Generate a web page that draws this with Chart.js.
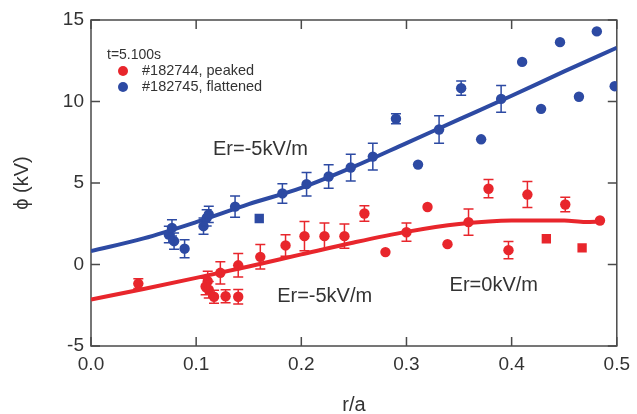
<!DOCTYPE html>
<html><head><meta charset="utf-8">
<script src="https://cdn.jsdelivr.net/npm/chart.js@4.4.1/dist/chart.umd.min.js"></script>
<style>html,body{margin:0;padding:0;background:#fff}#wrap{width:637px;height:414px}</style>
</head><body><div id="wrap"><canvas id="c" width="637" height="414"></canvas></div>
<script>
// ---- data ----
const xTickValues = [0, 0.1, 0.2, 0.3, 0.4, 0.5];
const yTickValues = [-5, 0, 5, 10, 15];
const xTitle = 'r/a';
const yTitle = 'ϕ (kV)';
const legendTitle = 't=5.100s';
const seriesNames = ['#182744, peaked', '#182745, flattened'];
const annotationTexts = ['Er=-5kV/m', 'Er=-5kV/m', 'Er=0kV/m'];

// #182744 peaked (red)
const peakedR   = [0.045, 0.111, 0.109, 0.112, 0.117, 0.128, 0.140, 0.123, 0.140, 0.161, 0.185, 0.203, 0.222, 0.241, 0.260, 0.280, 0.300, 0.320, 0.339, 0.359, 0.378, 0.397, 0.415, 0.433, 0.451, 0.467, 0.484];
const peakedPhi = [-1.17, -1.02, -1.35, -1.55, -1.98, -1.95, -1.98, -0.51, -0.05, 0.47, 1.17, 1.74, 1.74, 1.74, 3.13, 0.76, 1.98, 3.53, 1.25, 2.60, 4.65, 0.88, 4.29, 1.58, 3.68, 1.02, 2.70];
const peakedErr = [0.30, 0.60, 0.50, 0.50, 0.40, 0.40, 0.45, 0.68, 0.72, 0.75, 0.66, 0.90, 0.80, 0.75, 0.48, 0, 0.56, 0, 0, 0.80, 0.56, 0.53, 0.80, 0, 0.44, 0, 0];

// #182745 flattened (blue)
const flatR   = [0.074, 0.077, 0.079, 0.089, 0.107, 0.110, 0.112, 0.137, 0.160, 0.182, 0.205, 0.226, 0.247, 0.268, 0.290, 0.311, 0.331, 0.352, 0.371, 0.390, 0.410, 0.428, 0.446, 0.464, 0.481, 0.498];
const flatPhi = [1.84, 2.25, 1.43, 0.97, 2.35, 2.86, 3.07, 3.55, 2.82, 4.36, 4.93, 5.40, 5.95, 6.62, 8.94, 6.13, 8.28, 10.82, 7.68, 10.16, 12.43, 9.55, 13.64, 10.29, 14.30, 10.94];
const flatErr = [0.50, 0.50, 0.50, 0.55, 0.50, 0.50, 0.50, 0.65, 0, 0.60, 0.72, 0.72, 0.82, 0.82, 0.31, 0, 0.84, 0.44, 0, 0.82, 0, 0, 0, 0, 0, 0];

// fitted curves
const peakedFitR   = [0, 0.05, 0.10, 0.15, 0.20, 0.25, 0.30, 0.35, 0.40, 0.45, 0.47, 0.485];
const peakedFitPhi = [-2.15, -1.50, -0.82, -0.12, 0.62, 1.35, 2.00, 2.48, 2.70, 2.70, 2.60, 2.64];
const flatFitR   = [0, 0.05, 0.10, 0.15, 0.20, 0.25, 0.30, 0.35, 0.40, 0.45, 0.50];
const flatFitPhi = [0.82, 1.60, 2.60, 3.70, 4.70, 6.00, 7.45, 8.90, 10.35, 11.85, 13.30];

// ---- styling (kept apart from the data) ----
const RED = '#e8262c', BLUE = '#2d4aa3', INK = '#333333', AXIS = '#4a4a4a';
const peakedSquares = [23, 25];
const flatSquares = [8];
const FONT = '"Liberation Sans", Arial, sans-serif';

const pts = (xs, ys) => xs.map((v, i) => ({x: v, y: ys[i]}));
const styles = (n, sq) => Array.from({length: n}, (_, i) => sq.includes(i) ? 'rect' : 'circle');
const radii = (n, sq) => Array.from({length: n}, (_, i) => sq.includes(i) ? 6.6 : 5.2);

const boxTicks = {
  id: 'boxTicks',
  beforeDatasetsDraw(chart) {
    const {ctx, chartArea: a, scales: {x, y}} = chart;
    ctx.save();
    ctx.strokeStyle = AXIS; ctx.lineWidth = 1.5;
    ctx.strokeRect(a.left, a.top, a.right - a.left, a.bottom - a.top);
    const L = 9;
    ctx.beginPath();
    x.ticks.forEach(t => {
      const p = x.getPixelForValue(t.value);
      ctx.moveTo(p, a.bottom); ctx.lineTo(p, a.bottom - L);
      ctx.moveTo(p, a.top); ctx.lineTo(p, a.top + L);
    });
    y.ticks.forEach(t => {
      const p = y.getPixelForValue(t.value);
      ctx.moveTo(a.left, p); ctx.lineTo(a.left + L, p);
      ctx.moveTo(a.right, p); ctx.lineTo(a.right - L, p);
    });
    ctx.stroke();
    ctx.restore();
  }
};

const errorBars = {
  id: 'errorBars',
  afterDatasetsDraw(chart) {
    const {ctx, scales: {x, y}} = chart;
    ctx.save();
    chart.data.datasets.forEach(ds => {
      if (!ds.errors) return;
      ctx.strokeStyle = ds.borderColor; ctx.lineWidth = 1.5;
      ds.data.forEach((p, j) => {
        const e = ds.errors[j];
        if (!e) return;
        const px = x.getPixelForValue(p.x);
        const y1 = y.getPixelForValue(p.y + e), y2 = y.getPixelForValue(p.y - e);
        ctx.beginPath();
        ctx.moveTo(px, y1); ctx.lineTo(px, y2);
        ctx.moveTo(px - 5, y1); ctx.lineTo(px + 5, y1);
        ctx.moveTo(px - 5, y2); ctx.lineTo(px + 5, y2);
        ctx.stroke();
      });
    });
    ctx.restore();
  }
};

const legendAndNotes = {
  id: 'legendAndNotes',
  afterDraw(chart) {
    const {ctx, chartArea: a, scales: {x, y}} = chart;
    ctx.save();
    ctx.fillStyle = INK;
    ctx.textBaseline = 'middle';
    ctx.textAlign = 'left';
    ctx.font = '14px ' + FONT;
    ctx.fillText(legendTitle, a.left + 16, a.top + 35);
    const cols = [RED, BLUE];
    seriesNames.forEach((name, i) => {
      const yy = a.top + 51 + i * 16;
      ctx.fillStyle = cols[i];
      ctx.beginPath(); ctx.arc(a.left + 32, yy, 5, 0, Math.PI * 2); ctx.fill();
      ctx.fillStyle = INK;
      ctx.font = '14.5px ' + FONT;
      ctx.fillText(name, a.left + 51, yy);
    });
    // annotations placed in data coordinates
    const where = [[0.116, 7.05], [0.177, -1.96], [0.341, -1.29]];
    ctx.font = '20px ' + FONT;
    annotationTexts.forEach((t, i) => {
      ctx.fillText(t, x.getPixelForValue(where[i][0]), y.getPixelForValue(where[i][1]));
    });
    ctx.restore();
  }
};

new Chart(document.getElementById('c'), {
  type: 'scatter',
  data: {
    datasets: [
      {label: seriesNames[0], data: pts(peakedR, peakedPhi), errors: peakedErr,
       backgroundColor: RED, borderColor: RED, pointStyle: styles(peakedR.length, peakedSquares),
       pointRadius: radii(peakedR.length, peakedSquares), pointBorderWidth: 0, order: 0},
      {label: seriesNames[1], data: pts(flatR, flatPhi), errors: flatErr,
       backgroundColor: BLUE, borderColor: BLUE, pointStyle: styles(flatR.length, flatSquares),
       pointRadius: radii(flatR.length, flatSquares), pointBorderWidth: 0, order: 0},
      {label: 'peaked fit', data: pts(peakedFitR, peakedFitPhi), showLine: true, pointRadius: 0,
       borderColor: RED, borderWidth: 4, cubicInterpolationMode: 'monotone', order: 1},
      {label: 'flattened fit', data: pts(flatFitR, flatFitPhi), showLine: true, pointRadius: 0,
       borderColor: BLUE, borderWidth: 4, cubicInterpolationMode: 'monotone', order: 1}
    ]
  },
  options: {
    responsive: false,
    animation: false,
    devicePixelRatio: 1,
    layout: {padding: {left: 0, right: 13, top: 20, bottom: 0}},
    plugins: {legend: {display: false}, tooltip: {enabled: false}},
    scales: {
      x: {
        type: 'linear', min: 0, max: 0.5,
        afterBuildTicks: s => { s.ticks = xTickValues.map(v => ({value: v})); },
        afterFit: s => { s.height = 68; },
        grid: {display: false, drawTicks: false},
        border: {display: false},
        ticks: {color: INK, font: {family: FONT, size: 19}, padding: 7, callback: v => v.toFixed(1)},
        title: {display: true, text: xTitle, color: INK, font: {family: FONT, size: 20}, padding: {top: 0, bottom: -3}}
      },
      y: {
        type: 'linear', min: -5, max: 15,
        afterBuildTicks: s => { s.ticks = yTickValues.map(v => ({value: v})); },
        afterFit: s => { s.width = 91; },
        grid: {display: false, drawTicks: false},
        border: {display: false},
        ticks: {color: INK, font: {family: FONT, size: 19}, padding: 7},
        title: {display: true, text: yTitle, color: INK, font: {family: FONT, size: 20}, padding: {top: 10, bottom: 0}}
      }
    }
  },
  plugins: [boxTicks, errorBars, legendAndNotes]
});
</script>
</body></html>
